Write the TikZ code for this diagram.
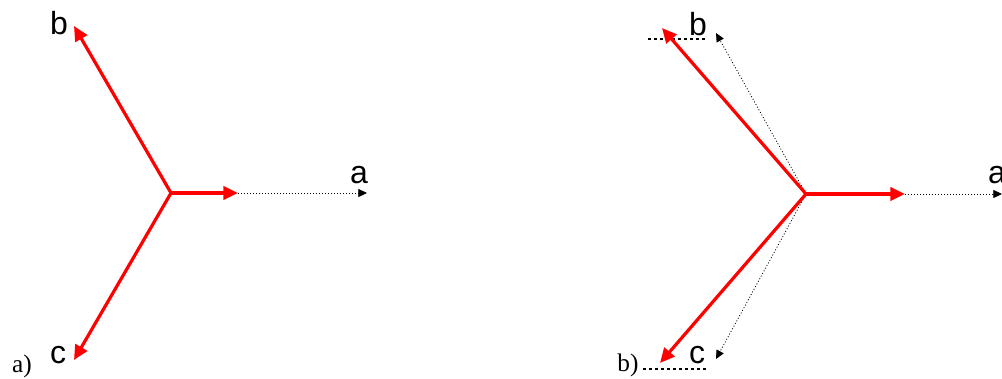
\documentclass[tikz,border=0pt]{standalone}
\usepackage{fontspec}
\setmainfont{Liberation Serif}
\setsansfont{Liberation Sans}
\usetikzlibrary{arrows.meta}

\begin{document}
\begin{tikzpicture}[x=0.75pt,y=-0.75pt,>=Latex,
    phasor/.style={draw=red,line width=2.4pt,-{Triangle[length=11pt,width=10pt]}},
    trace/.style={draw,line width=0.6pt,dash pattern=on 0.75pt off 1.5pt,%
      -{Triangle[length=6.5pt,width=6pt]}},
    offset/.style={draw,line width=2.2pt,dash pattern=on 2.25pt off 2.25pt},
    lbl/.style={font=\sffamily\fontsize{24}{24}\selectfont,anchor=base,inner sep=0pt},
    tag/.style={font=\fontsize{19}{19}\selectfont,anchor=base,inner sep=0pt}]
    \useasboundingbox (0,0) rectangle (1002,378);
    % a) symmetric
    \coordinate (o1) at (171,193);
    \coordinate (ha1) at (238,193);
    \coordinate (ta1) at (367,193);
    \coordinate (tb1) at (74,26);
    \coordinate (tc1) at (74,360);
    \draw[trace] (ha1) -- (ta1);
    \draw[phasor] (o1) -- (ha1);
    \draw[phasor] (o1) -- (tb1);
    \draw[phasor] (o1) -- (tc1);
    \node[lbl] (la1) at (359,183) {a};
    \node[lbl] (lb1) at (59,35) {b};
    \node[lbl] (lc1) at (58,363) {c};
    \node[tag] (cap1) at (22,372) {a)};
    % b) unbalanced
    \coordinate (o2) at (806,194);
    \coordinate (ha2) at (905,194);
    \coordinate (ta2) at (1002,194);
    \coordinate (tb2) at (662,28);
    \coordinate (tc2) at (660,363);
    \coordinate (ob2) at (716,33);
    \coordinate (oc2) at (716,359);
    \coordinate (sb1) at (648,39);
    \coordinate (sb2) at (706,39);
    \coordinate (sc1) at (643,369);
    \coordinate (sc2) at (706,369);
    \draw[trace] (ha2) -- (ta2);
    \draw[trace] (o2) -- (ob2);
    \draw[trace] (o2) -- (oc2);
    \draw[offset] (sb1) -- (sb2);
    \draw[offset] (sc1) -- (sc2);
    \draw[phasor] (o2) -- (ha2);
    \draw[phasor] (o2) -- (tb2);
    \draw[phasor] (o2) -- (tc2);
    \node[lbl] (la2) at (997,183) {a};
    \node[lbl] (lb2) at (698,36) {b};
    \node[lbl] (lc2) at (697,363) {c};
    \node[tag] (cap2) at (628,371) {b)};
  \end{tikzpicture}
\end{document}
